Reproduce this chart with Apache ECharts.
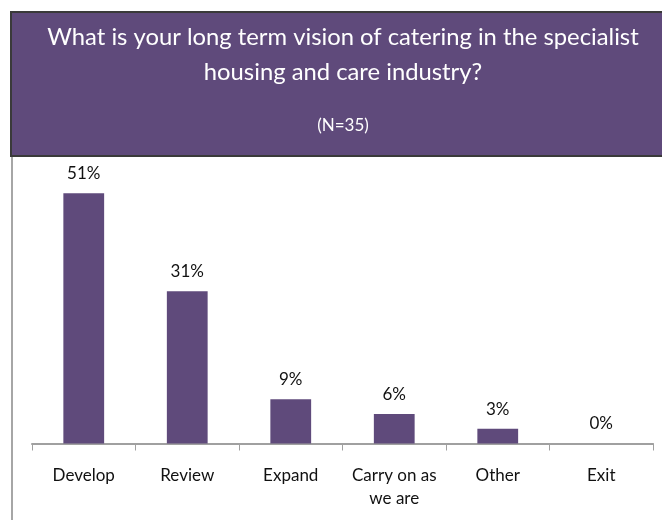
<!DOCTYPE html>
<html>
<head>
<meta charset="utf-8">
<script src="https://cdn.jsdelivr.net/npm/echarts@6/dist/echarts.min.js"></script>
<style>
  html, body { margin: 0; padding: 0; background: #ffffff; }
  #chart { width: 662px; height: 520px; }
</style>
</head>
<body>
<div id="chart"></div>
<script>
// Survey question and sample size
const titleLines = ['What is your long term vision of catering in the specialist', 'housing and care industry?'];
const sampleLabel = '(N=35)';

// Answer categories and the share of respondents choosing each (%)
const categories = ['Develop', 'Review', 'Expand', 'Carry on as\nwe are', 'Other', 'Exit'];
const shares = [51, 31, 9, 6, 3, 0];

const purple = '#5f4a7b';
const fontFamily = 'Lato, "Open Sans", sans-serif';

const chart = echarts.init(document.getElementById('chart'), null, { renderer: 'canvas' });

chart.setOption({
  backgroundColor: '#ffffff',
  animation: false,
  graphic: [
    // frame line down the left side
    { type: 'line', z: 0, shape: { x1: 12, y1: 12, x2: 12, y2: 520 },
      style: { stroke: '#a6a6a6', lineWidth: 2 } },
    // header band
    { type: 'rect', z: 1, shape: { x: 11, y: 12, width: 660, height: 144 },
      style: { fill: purple, stroke: '#3a3a3a', lineWidth: 2 } }
  ],
  title: [
    {
      text: titleLines.join('\n'),
      left: 343,
      textAlign: 'center',
      padding: 0,
      top: 20,
      z: 5,
      textStyle: { color: '#ffffff', fontFamily: fontFamily, fontWeight: 'normal', fontSize: 23.8, lineHeight: 35 }
    },
    {
      text: sampleLabel,
      left: 343,
      textAlign: 'center',
      padding: 0,
      top: 117,
      z: 5,
      textStyle: { color: '#ffffff', fontFamily: fontFamily, fontWeight: 'normal', fontSize: 17 }
    }
  ],
  grid: { left: 32, right: 9, top: 149, bottom: 76.5, containLabel: false },
  xAxis: {
    type: 'category',
    data: categories,
    axisLine: { lineStyle: { color: '#a0a0a0', width: 2 } },
    axisTick: { show: true, length: 7, lineStyle: { color: '#a0a0a0', width: 1 } },
    axisLabel: { color: '#111111', fontFamily: fontFamily, fontSize: 17, margin: 21, lineHeight: 23, interval: 0 }
  },
  yAxis: {
    type: 'value',
    min: 0,
    max: 60,
    show: false,
    splitLine: { show: false }
  },
  series: [{
    type: 'bar',
    data: shares,
    barWidth: '39.4%',
    itemStyle: { color: purple },
    label: {
      show: true,
      position: 'top',
      distance: 11,
      formatter: '{c}%',
      color: '#111111',
      fontFamily: fontFamily,
      fontSize: 17
    }
  }]
});
</script>
</body>
</html>
